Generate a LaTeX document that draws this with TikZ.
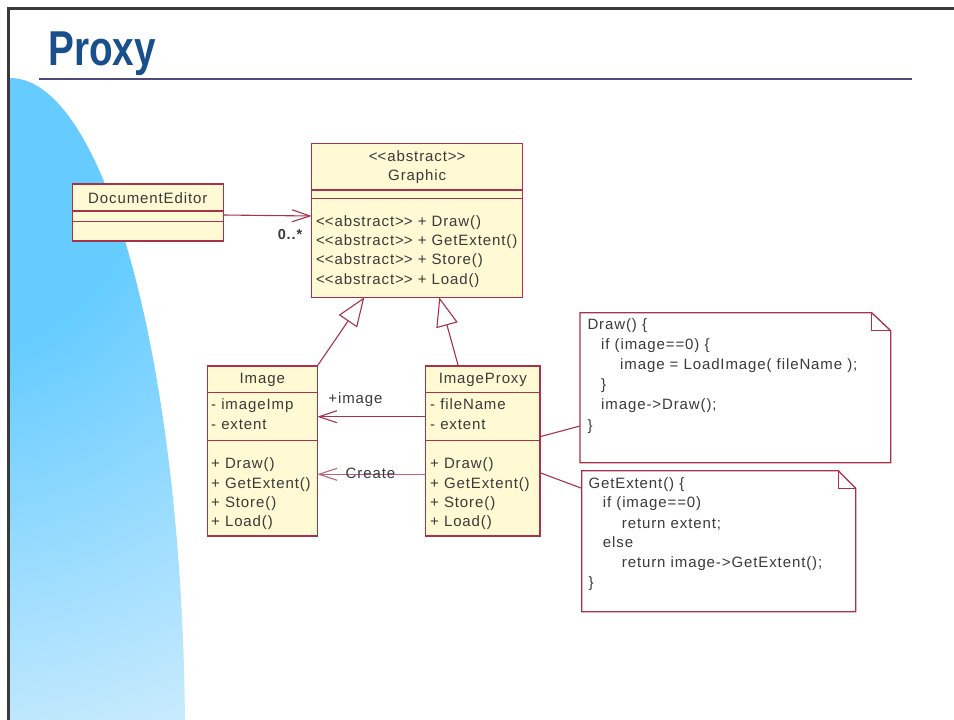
\documentclass[tikz,border=0pt]{standalone}
\usepackage{fontspec}
\usepackage{graphicx}
\usetikzlibrary{arrows.meta,calc}

\newfontfamily\umlfont{Liberation Sans}[LetterSpace=6]
\newfontfamily\headfont{Liberation Sans}
% keep "<<" and ">>" as plain angle brackets
\newcommand\umlstereo[1]{<\kern0pt<#1>\kern0pt>}

\definecolor{umlborder}{HTML}{A8324A}
\definecolor{umlfill}{HTML}{FFF9D4}
\definecolor{umltext}{HTML}{3A3A3A}
\definecolor{titleblue}{HTML}{1A4F8E}
\definecolor{rulepurple}{HTML}{4F4A7A}
\definecolor{framegray}{HTML}{3A3A3A}
\definecolor{skyA}{HTML}{66CCFF}
\definecolor{skyB}{HTML}{D0EDFD}
\pgfdeclareradialshading{skyfade}{\pgfpointorigin}{color(0bp)=(skyA); color(8bp)=(skyA); color(25bp)=(skyB); color(50bp)=(skyB)}

\tikzset{
  cls/.style={draw=umlborder, fill=umlfill, line width=1.3pt, inner sep=0pt, outer sep=0pt, anchor=north west},
  divider/.style={draw=umlborder, line width=1.1pt},
  umltxt/.style={font=\umlfont\fontsize{15}{18}\selectfont, text=umltext, inner sep=0pt, anchor=base west},
  umlname/.style={umltxt, anchor=base},
  assoc/.style={draw=umlborder, line width=1.1pt, -{Straight Barb[length=18pt,width=12pt]}},
  inherit/.style={draw=umlborder, line width=1.1pt, -{Triangle[open,length=29pt,width=22pt]}},
  notearea/.style={draw=none, inner sep=0pt, outer sep=0pt, anchor=north west},
  notebox/.style={draw=umlborder, fill=white, line width=1.3pt, line join=miter},
  notelink/.style={draw=umlborder, line width=1.1pt},
}

\begin{document}
\begin{tikzpicture}[x=1pt,y=-1pt]
\useasboundingbox (0,0) rectangle (954,720);

% sky-blue backdrop on the left
\begin{scope}
  \clip (10,70) rectangle (200,720);
  \clip (10,740) ellipse [x radius=175, y radius=662];
  \shade[shading=skyfade] (-60,150) circle [radius=650];
\end{scope}

% slide frame
\draw[framegray, line width=2.6] (7,8.3) -- (954,8.3);
\draw[framegray, line width=2.4] (8.5,7) -- (8.5,720);

% title and rule
\node[anchor=base west, inner sep=0pt, text=titleblue, font=\headfont\bfseries\fontsize{49}{58}\selectfont] (title) at (48,65) {\scalebox{0.79}[1]{Proxy}};
\draw[rulepurple, line width=2.2] (39,79) -- (912,79);

% ---- DocumentEditor
\node[cls, minimum width=151, minimum height=57] (docedit) at (72.3,184) {};
\draw[divider] ($(docedit.north west)+(0,27)$) -- ($(docedit.north east)+(0,27)$);
\draw[divider] ($(docedit.north west)+(0,37.7)$) -- ($(docedit.north east)+(0,37.7)$);
\node[umlname] (doceditname) at ($(docedit.north)+(0,19.3)$) {DocumentEditor};

% ---- Graphic
\node[cls, minimum width=211, minimum height=154] (graphic) at (311.7,143.3) {};
\draw[divider] ($(graphic.north west)+(0,46.7)$) -- ($(graphic.north east)+(0,46.7)$);
\draw[divider] ($(graphic.north west)+(0,55.4)$) -- ($(graphic.north east)+(0,55.4)$);
\node[umlname] (graphicstereo) at ($(graphic.north)+(0,17.7)$) {\umlstereo{abstract}};
\node[umlname] (graphicname) at ($(graphic.north)+(0,37.4)$) {Graphic};
\node[umltxt] (gop1) at ($(graphic.north west)+(4.3,82.7)$) {\umlstereo{abstract} + Draw()};
\node[umltxt] (gop2) at ($(graphic.north west)+(4.3,102)$) {\umlstereo{abstract} + GetExtent()};
\node[umltxt] (gop3) at ($(graphic.north west)+(4.3,121)$) {\umlstereo{abstract} + Store()};
\node[umltxt] (gop4) at ($(graphic.north west)+(4.3,140.7)$) {\umlstereo{abstract} + Load()};

% ---- Image
\node[cls, minimum width=110, minimum height=170] (image) at (207.3,366) {};
\draw[divider] ($(image.north west)+(0,26.3)$) -- ($(image.north east)+(0,26.3)$);
\draw[divider] ($(image.north west)+(0,74.7)$) -- ($(image.north east)+(0,74.7)$);
\node[umlname] (imagename) at ($(image.north)+(0,17.3)$) {Image};
\node[umltxt] (iat1) at ($(image.north west)+(3.7,43.6)$) {- imageImp};
\node[umltxt] (iat2) at ($(image.north west)+(3.7,63.6)$) {- extent};
\node[umltxt] (iop1) at ($(image.north west)+(3.7,102.6)$) {+ Draw()};
\node[umltxt] (iop2) at ($(image.north west)+(3.7,122)$) {+ GetExtent()};
\node[umltxt] (iop3) at ($(image.north west)+(3.7,141.6)$) {+ Store()};
\node[umltxt] (iop4) at ($(image.north west)+(3.7,160.6)$) {+ Load()};

% ---- ImageProxy
\node[cls, minimum width=114.3, minimum height=170] (proxy) at (425.7,366) {};
\draw[divider] ($(proxy.north west)+(0,26.3)$) -- ($(proxy.north east)+(0,26.3)$);
\draw[divider] ($(proxy.north west)+(0,74.7)$) -- ($(proxy.north east)+(0,74.7)$);
\node[umlname] (proxyname) at ($(proxy.north)+(0,17.3)$) {ImageProxy};
\node[umltxt] (pat1) at ($(proxy.north west)+(4.3,43.6)$) {- fileName};
\node[umltxt] (pat2) at ($(proxy.north west)+(4.3,63.6)$) {- extent};
\node[umltxt] (pop1) at ($(proxy.north west)+(4.3,102.6)$) {+ Draw()};
\node[umltxt] (pop2) at ($(proxy.north west)+(4.3,122)$) {+ GetExtent()};
\node[umltxt] (pop3) at ($(proxy.north west)+(4.3,141.6)$) {+ Store()};
\node[umltxt] (pop4) at ($(proxy.north west)+(4.3,160.6)$) {+ Load()};

% ---- association DocumentEditor -> Graphic
\draw[assoc] ($(docedit.north east)+(0,31)$) -- ($(graphic.north west)+(0,72.7)$);
\node[umltxt, anchor=base, font=\umlfont\bfseries\fontsize{14.5}{17}\selectfont] (mult) at (290,239.5) {0..*};

% ---- generalisations
\draw[inherit] (image.north east) -- ($(graphic.south west)+(52.6,0)$);
\draw[inherit] ($(proxy.north west)+(32.6,0)$) -- ($(graphic.south west)+(127.6,0)$);

% ---- ImageProxy -> Image
\draw[assoc] ($(proxy.north west)+(0,50.7)$) -- ($(image.north east)+(0,50.7)$);
\node[umlname] (rolelabel) at (355.5,403.6) {+image};
\draw[assoc, draw=umlborder!75] ($(proxy.north west)+(0,108.3)$) -- ($(image.north east)+(0,108.3)$);
\node[umlname] (createlabel) at (370.5,478) {Create};

% ---- note on Draw()
\node[notearea, minimum width=310.7, minimum height=150] (note1) at (580,312.7) {};
\draw[notebox] (note1.north west) -- ($(note1.north east)+(-19,0)$) -- ($(note1.north east)+(0,18)$) -- (note1.south east) -- (note1.south west) -- cycle;
\draw[notelink] ($(note1.north east)+(-19,0)$) -- ($(note1.north east)+(-19,18)$) -- ($(note1.north east)+(0,18)$);
\node[umltxt] (n1l1) at ($(note1.north west)+(7.3,17)$) {Draw() \{};
\node[umltxt] (n1l2) at ($(note1.north west)+(21,37)$) {if (image==0) \{};
\node[umltxt] (n1l3) at ($(note1.north west)+(40,56.5)$) {image = LoadImage( fileName );};
\node[umltxt] (n1l4) at ($(note1.north west)+(21,76.5)$) {\}};
\node[umltxt] (n1l5) at ($(note1.north west)+(21,97)$) {image->Draw();};
\node[umltxt] (n1l6) at ($(note1.north west)+(7.3,117.5)$) {\}};

% ---- note on GetExtent()
\node[notearea, minimum width=274, minimum height=141] (note2) at (581.7,470.7) {};
\draw[notebox] (note2.north west) -- ($(note2.north east)+(-17.4,0)$) -- ($(note2.north east)+(0,17.6)$) -- (note2.south east) -- (note2.south west) -- cycle;
\draw[notelink] ($(note2.north east)+(-17.4,0)$) -- ($(note2.north east)+(-17.4,17.6)$) -- ($(note2.north east)+(0,17.6)$);
\node[umltxt] (n2l1) at ($(note2.north west)+(6.6,17.3)$) {GetExtent() \{};
\node[umltxt] (n2l2) at ($(note2.north west)+(21,36.3)$) {if (image==0)};
\node[umltxt] (n2l3) at ($(note2.north west)+(40,57.3)$) {return extent;};
\node[umltxt] (n2l4) at ($(note2.north west)+(21,76.3)$) {else};
\node[umltxt] (n2l5) at ($(note2.north west)+(40,96.3)$) {return image->GetExtent();};
\node[umltxt] (n2l6) at ($(note2.north west)+(6.6,116.3)$) {\}};

% ---- note anchors
\draw[notelink] ($(proxy.north east)+(0,70.7)$) -- ($(note1.north west)+(0,113.3)$);
\draw[notelink] ($(proxy.north east)+(0,106.7)$) -- ($(note2.north west)+(0,17.6)$);

\end{tikzpicture}
\end{document}
